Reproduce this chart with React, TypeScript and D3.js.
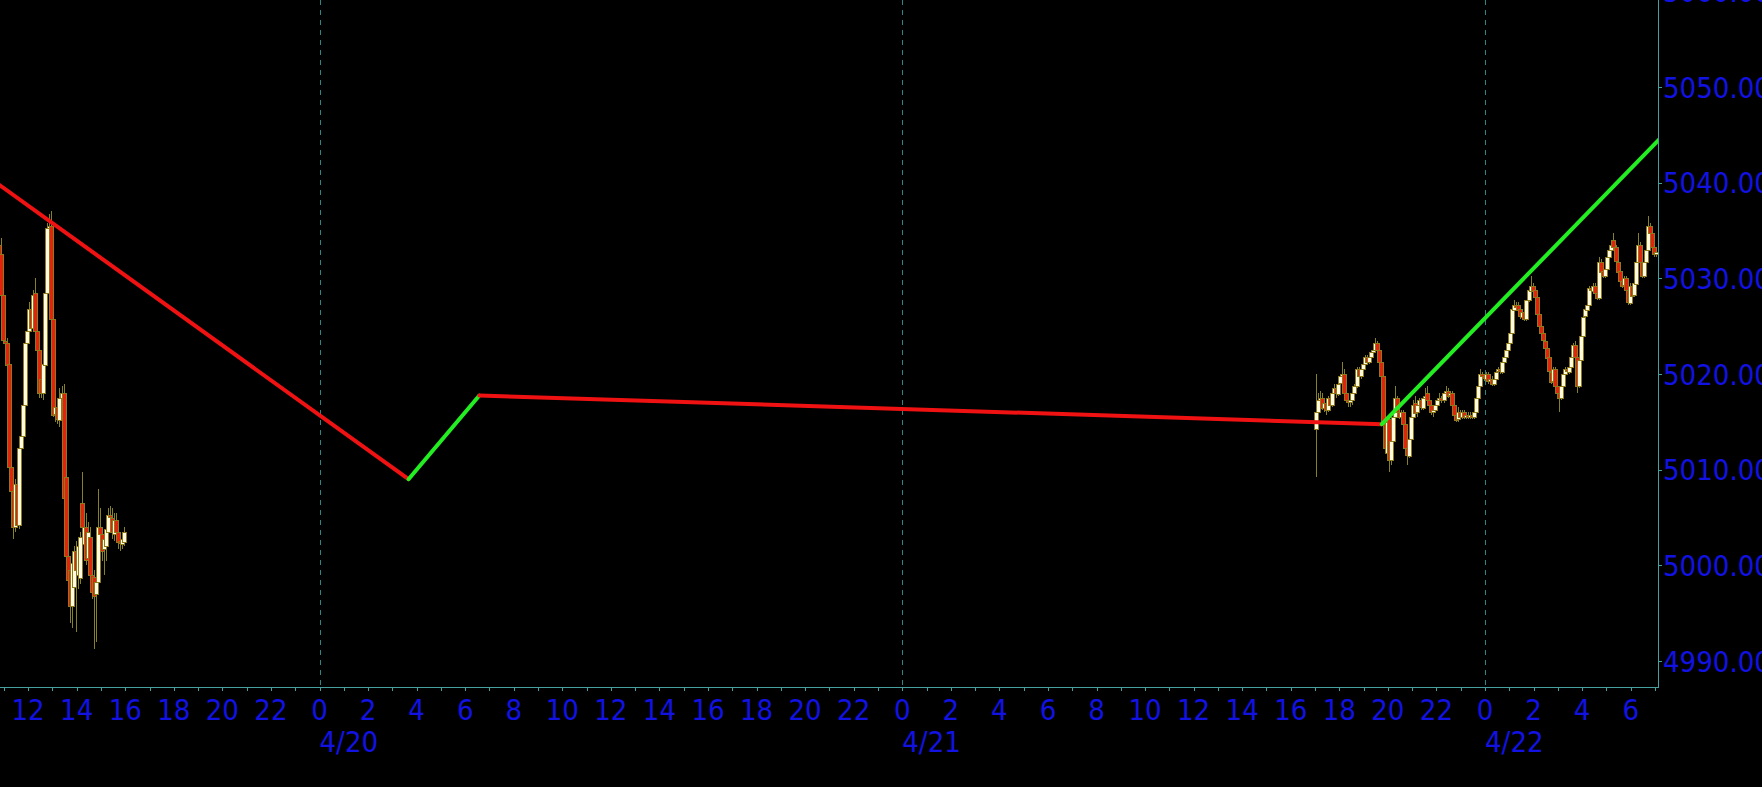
import { useEffect, useRef } from "react"
import * as d3 from "d3"

// chart frame
const W = 1762
const H = 787
const PLOT_RIGHT = 1658
const PLOT_BOTTOM = 687

// 5 minute bars, [open, high, low, close]
const BAR_MINUTES = 5
const fridayStart = new Date(2024, 3, 19, 10, 45)
const fridayBars: number[][] = [
  [5033.5, 5035.5, 5032.0, 5032.5],
  [5032.5, 5034.25, 5028.0, 5028.25],
  [5028.25, 5029.0, 5023.25, 5023.5],
  [5023.5, 5024.5, 5022.75, 5023.25],
  [5023.25, 5023.75, 5020.75, 5021.0],
  [5021.0, 5021.5, 5010.0, 5010.25],
  [5010.25, 5011.0, 5007.5, 5007.75],
  [5007.75, 5008.25, 5002.75, 5004.0],
  [5004.0, 5009.0, 5003.5, 5008.5],
  [5008.5, 5009.0, 5004.0, 5004.25],
  [5004.25, 5012.75, 5003.75, 5012.25],
  [5012.25, 5014.0, 5011.75, 5013.5],
  [5013.5, 5017.0, 5013.0, 5016.75],
  [5016.75, 5023.75, 5016.25, 5023.25],
  [5023.25, 5025.0, 5022.5, 5024.5],
  [5024.5, 5027.5, 5023.75, 5026.75],
  [5026.75, 5028.0, 5024.5, 5024.75],
  [5024.75, 5028.75, 5024.5, 5028.25],
  [5028.5, 5030.0, 5024.0, 5024.5],
  [5024.5, 5026.0, 5022.0, 5022.5],
  [5022.5, 5023.0, 5017.5, 5018.0],
  [5019.5, 5022.25, 5017.5, 5018.0],
  [5018.0, 5021.5, 5017.25, 5021.0],
  [5021.0, 5029.0, 5020.5, 5028.5],
  [5028.5, 5035.75, 5028.0, 5035.25],
  [5035.25, 5036.75, 5034.0, 5035.5],
  [5035.5, 5037.0, 5025.5, 5025.75],
  [5025.75, 5026.5, 5015.5, 5015.75],
  [5015.75, 5017.5, 5015.0, 5016.5],
  [5016.5, 5017.5, 5014.75, 5015.25],
  [5015.25, 5018.5, 5014.5, 5017.5],
  [5017.5, 5018.75, 5016.5, 5018.0],
  [5018.0, 5019.0, 5006.75, 5007.0],
  [5009.25, 5010.0, 5000.75, 5001.0],
  [5001.0, 5002.5, 4998.0, 4998.5],
  [4999.5, 5001.0, 4994.0, 4995.75],
  [4995.75, 5001.0, 4993.5, 5000.25],
  [4997.75, 5002.0, 4996.5, 5001.5],
  [5001.5, 5002.5, 4993.0, 4999.5],
  [4999.0, 5002.5, 4997.5, 5002.0],
  [4998.75, 5003.5, 4998.0, 5003.0],
  [5006.5, 5009.75, 5003.5, 5004.0],
  [5002.25, 5006.0, 5001.5, 5004.0],
  [5004.0, 5005.5, 5000.0, 5000.5],
  [5000.75, 5004.5, 4999.75, 5003.5],
  [5003.0, 5004.0, 4998.5, 4999.0],
  [4999.0, 5000.0, 4996.5, 4997.25],
  [4998.75, 4999.5, 4991.25, 4996.75],
  [4997.0, 4999.0, 4992.0, 4998.25],
  [4998.25, 5008.0, 4997.5, 5004.0],
  [5004.0, 5006.0, 5002.75, 5003.25],
  [5003.25, 5004.0, 5000.5, 5001.5],
  [5001.75, 5003.5, 4999.0, 5002.75],
  [5002.0, 5004.0, 5000.5, 5003.75],
  [5003.5, 5006.0, 5003.0, 5005.25],
  [5005.25, 5006.25, 5004.25, 5005.0],
  [5005.0, 5006.0, 5002.75, 5003.5],
  [5003.25, 5005.5, 5002.5, 5004.75],
  [5004.75, 5005.5, 5003.0, 5003.5],
  [5003.5, 5004.0, 5001.75, 5002.5],
  [5002.5, 5003.5, 5001.5, 5002.25],
  [5002.25, 5003.25, 5001.75, 5002.75],
  [5002.5, 5004.0, 5002.0, 5003.5],
]

const sundayStart = new Date(2024, 3, 21, 17, 0)
const sundayBars: number[][] = [
  [5014.25, 5020.0, 5009.25, 5016.0],
  [5016.0, 5018.0, 5015.75, 5017.25],
  [5017.25, 5018.25, 5016.75, 5017.5],
  [5017.5, 5018.0, 5016.25, 5016.5],
  [5016.5, 5017.5, 5016.0, 5017.0],
  [5017.0, 5017.25, 5015.75, 5016.25],
  [5016.25, 5017.75, 5016.0, 5017.5],
  [5017.5, 5018.0, 5016.5, 5016.75],
  [5016.75, 5018.25, 5016.5, 5018.0],
  [5018.0, 5019.0, 5017.75, 5018.5],
  [5018.5, 5018.75, 5017.5, 5018.0],
  [5018.0, 5019.25, 5017.75, 5019.0],
  [5019.0, 5020.0, 5018.75, 5019.75],
  [5019.75, 5021.25, 5019.5, 5020.0],
  [5020.0, 5020.5, 5017.75, 5018.0],
  [5018.0, 5018.25, 5017.0, 5017.25],
  [5017.25, 5017.5, 5016.5, 5017.0],
  [5017.0, 5017.5, 5016.5, 5017.25],
  [5017.25, 5018.25, 5016.75, 5018.0],
  [5018.0, 5019.0, 5017.75, 5018.75],
  [5018.75, 5020.75, 5018.5, 5020.5],
  [5020.5, 5020.75, 5019.5, 5019.75],
  [5019.75, 5020.75, 5019.5, 5020.5],
  [5020.5, 5021.25, 5020.25, 5021.0],
  [5021.0, 5022.0, 5020.75, 5021.75],
  [5021.75, 5022.0, 5021.0, 5021.25],
  [5021.25, 5022.0, 5021.0, 5021.75],
  [5021.75, 5022.5, 5021.5, 5022.25],
  [5022.25, 5022.75, 5021.75, 5022.5],
  [5022.5, 5023.75, 5022.25, 5023.25],
  [5023.25, 5023.5, 5022.25, 5022.5],
  [5022.5, 5022.75, 5021.0, 5021.25],
  [5021.25, 5021.5, 5019.5, 5019.75],
  [5019.75, 5020.0, 5014.5, 5014.75],
  [5014.75, 5015.0, 5012.0, 5012.25],
  [5011.75, 5015.25, 5011.0, 5015.0],
  [5015.25, 5015.75, 5009.75, 5011.0],
  [5011.0, 5013.25, 5010.5, 5013.0],
  [5013.0, 5015.75, 5012.75, 5015.5],
  [5015.5, 5018.75, 5015.25, 5017.5],
  [5017.5, 5017.75, 5015.75, 5016.0],
  [5016.0, 5016.25, 5015.25, 5015.5],
  [5015.5, 5016.25, 5015.25, 5016.0],
  [5016.0, 5016.25, 5014.5, 5014.75],
  [5014.75, 5015.0, 5012.0, 5012.25],
  [5012.25, 5012.5, 5010.5, 5011.5],
  [5011.5, 5013.5, 5011.25, 5013.25],
  [5013.25, 5015.75, 5013.0, 5015.5],
  [5015.5, 5017.25, 5015.25, 5016.75],
  [5017.0, 5017.75, 5015.75, 5016.0],
  [5016.0, 5017.0, 5015.5, 5016.75],
  [5016.75, 5017.5, 5016.5, 5017.25],
  [5017.25, 5017.5, 5016.25, 5016.5],
  [5016.5, 5017.75, 5016.25, 5017.5],
  [5017.5, 5018.5, 5017.25, 5017.75],
  [5018.0, 5018.75, 5017.0, 5017.25],
  [5017.25, 5017.5, 5016.5, 5016.75],
  [5016.75, 5017.0, 5015.75, 5016.0],
  [5016.0, 5016.5, 5015.5, 5016.25],
  [5016.25, 5017.0, 5016.0, 5016.75],
  [5016.75, 5017.5, 5016.5, 5017.25],
  [5017.25, 5018.0, 5017.0, 5017.5],
  [5017.5, 5017.75, 5017.0, 5017.25],
  [5017.25, 5018.25, 5017.0, 5018.0],
  [5018.0, 5018.75, 5017.75, 5018.25],
  [5018.25, 5018.5, 5017.5, 5017.75],
  [5017.75, 5018.25, 5017.5, 5018.0],
  [5018.0, 5018.25, 5016.5, 5016.75],
  [5016.75, 5017.0, 5015.5, 5015.75],
  [5015.75, 5016.0, 5015.0, 5015.25],
  [5015.25, 5016.5, 5015.0, 5016.0],
  [5016.0, 5016.25, 5015.25, 5015.5],
  [5015.5, 5016.25, 5015.25, 5016.0],
  [5016.0, 5016.25, 5015.25, 5015.5],
  [5015.5, 5016.0, 5015.25, 5015.75],
  [5015.75, 5016.0, 5015.25, 5015.5],
  [5015.5, 5016.0, 5015.25, 5015.75],
  [5015.75, 5016.0, 5015.25, 5015.5],
  [5015.5, 5016.25, 5015.25, 5016.0],
  [5016.0, 5017.75, 5015.75, 5017.5],
  [5017.5, 5019.0, 5017.25, 5018.75],
  [5018.75, 5020.5, 5018.5, 5020.0],
  [5020.0, 5020.25, 5019.5, 5019.75],
  [5019.75, 5020.0, 5019.25, 5019.5],
  [5019.5, 5020.25, 5019.25, 5020.0],
  [5020.0, 5020.25, 5019.0, 5019.25],
  [5019.25, 5019.75, 5019.0, 5019.5],
  [5019.5, 5019.75, 5018.75, 5019.0],
  [5019.0, 5019.75, 5018.75, 5019.5],
  [5019.5, 5020.5, 5019.25, 5020.25],
  [5020.25, 5020.75, 5020.0, 5020.5],
  [5020.5, 5020.75, 5020.0, 5020.25],
  [5020.25, 5021.5, 5020.0, 5021.25],
  [5021.25, 5022.0, 5021.0, 5021.75],
  [5021.75, 5022.75, 5021.5, 5022.5],
  [5022.5, 5023.5, 5022.25, 5023.25],
  [5023.25, 5024.5, 5023.0, 5024.25],
  [5024.25, 5027.0, 5024.0, 5026.75],
  [5026.75, 5027.75, 5026.5, 5027.25],
  [5027.25, 5027.5, 5026.75, 5027.0],
  [5027.25, 5027.5, 5026.5, 5026.75],
  [5026.75, 5027.0, 5025.75, 5026.0],
  [5026.0, 5026.75, 5025.75, 5026.5],
  [5026.5, 5026.75, 5025.5, 5025.75],
  [5025.75, 5027.75, 5025.5, 5027.75],
  [5027.75, 5029.0, 5027.5, 5028.75],
  [5028.75, 5030.25, 5028.5, 5029.25],
  [5029.25, 5029.5, 5028.5, 5028.75],
  [5028.75, 5029.0, 5027.75, 5028.0],
  [5028.0, 5028.25, 5026.0, 5026.25],
  [5026.25, 5026.5, 5024.75, 5025.0],
  [5025.0, 5025.25, 5024.0, 5024.25],
  [5024.25, 5024.5, 5023.25, 5023.5],
  [5023.5, 5023.75, 5022.5, 5022.75],
  [5022.75, 5023.0, 5021.5, 5021.75],
  [5021.75, 5022.0, 5020.0, 5020.25],
  [5020.25, 5020.5, 5019.0, 5019.25],
  [5019.25, 5020.75, 5019.0, 5020.5],
  [5020.5, 5020.75, 5018.5, 5018.75],
  [5018.75, 5019.0, 5017.75, 5018.0],
  [5018.0, 5018.25, 5016.0, 5017.5],
  [5017.5, 5019.0, 5017.25, 5018.75],
  [5018.75, 5020.25, 5018.5, 5020.0],
  [5020.0, 5020.75, 5019.75, 5020.5],
  [5020.5, 5020.75, 5020.0, 5020.25],
  [5020.25, 5021.0, 5020.0, 5020.75],
  [5020.75, 5022.0, 5020.5, 5021.75],
  [5021.75, 5023.25, 5021.5, 5023.0],
  [5023.0, 5023.5, 5021.5, 5021.75],
  [5021.75, 5022.0, 5018.0, 5018.75],
  [5018.75, 5021.75, 5018.5, 5021.5],
  [5021.5, 5024.25, 5021.25, 5024.0],
  [5024.0, 5026.25, 5023.75, 5026.0],
  [5026.0, 5027.0, 5025.75, 5026.75],
  [5026.75, 5027.5, 5026.5, 5027.25],
  [5027.25, 5029.25, 5027.0, 5029.0],
  [5029.0, 5029.25, 5028.5, 5028.75],
  [5028.75, 5029.5, 5028.5, 5029.25],
  [5029.25, 5029.5, 5028.25, 5028.5],
  [5028.5, 5028.75, 5027.75, 5028.0],
  [5028.0, 5032.25, 5027.75, 5031.75],
  [5031.75, 5032.0, 5030.5, 5030.75],
  [5030.75, 5031.0, 5030.0, 5030.25],
  [5030.25, 5031.25, 5030.0, 5031.0],
  [5031.0, 5032.5, 5030.75, 5032.25],
  [5032.25, 5033.25, 5032.0, 5033.0],
  [5033.0, 5034.0, 5032.75, 5033.5],
  [5034.0, 5034.75, 5033.0, 5033.25],
  [5033.25, 5033.5, 5031.5, 5031.75],
  [5031.75, 5032.0, 5030.5, 5030.75],
  [5030.75, 5031.0, 5029.5, 5029.75],
  [5029.75, 5030.0, 5029.0, 5029.25],
  [5029.25, 5030.25, 5029.0, 5030.0],
  [5030.0, 5030.25, 5028.5, 5028.75],
  [5028.75, 5029.0, 5027.25, 5027.5],
  [5027.5, 5029.5, 5027.25, 5029.25],
  [5029.25, 5029.5, 5028.0, 5028.25],
  [5028.25, 5029.75, 5028.0, 5029.5],
  [5029.5, 5031.75, 5029.25, 5031.75],
  [5031.75, 5034.75, 5031.5, 5033.5],
  [5033.5, 5033.75, 5031.5, 5031.75],
  [5031.75, 5032.0, 5030.0, 5030.25],
  [5030.25, 5032.0, 5030.0, 5031.75],
  [5031.75, 5033.25, 5031.5, 5033.0],
  [5033.0, 5036.5, 5032.75, 5035.5],
  [5035.5, 5035.75, 5034.5, 5034.75],
  [5034.75, 5035.0, 5033.0, 5033.25],
  [5033.25, 5033.5, 5032.25, 5032.5],
  [5032.5, 5033.25, 5032.25, 5032.75],
]

// zigzag line pivots
const zigzagTimes = [
  new Date(2024, 3, 19, 10, 0),
  new Date(2024, 3, 20, 3, 40),
  new Date(2024, 3, 20, 6, 35),
  new Date(2024, 3, 21, 19, 45),
  new Date(2024, 3, 22, 7, 10),
]
const zigzagPrices = [5041.25, 5009.0, 5017.75, 5014.75, 5044.5]

const priceTicks = [4990, 5000, 5010, 5020, 5030, 5040, 5050, 5060]
const dayStarts = [new Date(2024, 3, 20), new Date(2024, 3, 21), new Date(2024, 3, 22)]

const FONT = "'DejaVu Sans Condensed', 'DejaVu Sans', sans-serif"
const BLUE = "#1212e2"
const AXIS = "#46a0a0"
const GRID = "#2f8585"

export default function App() {
  const svgRef = useRef<SVGSVGElement>(null)

  useEffect(() => {
    if (!svgRef.current) return
    const svg = d3.select(svgRef.current)
    svg.selectAll("*").remove()

    // X: 4/20 0:00 at 319.5, 4/22 0:00 at 1485
    const x = d3.scaleTime().domain([dayStarts[0], dayStarts[2]]).range([319.5, 1485])
    const y = d3.scaleLinear().domain([4990, 5050]).range([661, 87])

    svg.append("rect").attr("width", W).attr("height", H).attr("fill", "#000")

    svg
      .append("defs")
      .append("clipPath")
      .attr("id", "plot-clip")
      .append("rect")
      .attr("width", PLOT_RIGHT)
      .attr("height", PLOT_BOTTOM)

    const plot = svg.append("g").attr("clip-path", "url(#plot-clip)")

    // day separators
    plot
      .selectAll(".day")
      .data(dayStarts)
      .enter()
      .append("line")
      .attr("x1", (d) => Math.round(x(d)) + 0.5)
      .attr("x2", (d) => Math.round(x(d)) + 0.5)
      .attr("y1", 0)
      .attr("y2", PLOT_BOTTOM)
      .attr("stroke", GRID)
      .attr("stroke-dasharray", "5,5")
      .attr("shape-rendering", "crispEdges")

    // candles
    const toBars = (start: Date, rows: number[][]) =>
      rows.map((r, i) => ({
        t: new Date(start.getTime() + (i * BAR_MINUTES + BAR_MINUTES / 2) * 60000),
        o: r[0],
        h: r[1],
        l: r[2],
        c: r[3],
      }))
    const bars = [...toBars(fridayStart, fridayBars), ...toBars(sundayStart, sundayBars)]

    const candle = plot
      .selectAll(".bar")
      .data(bars)
      .enter()
      .append("g")
      .attr("shape-rendering", "crispEdges")

    candle
      .append("line")
      .attr("x1", (d) => Math.round(x(d.t)) + 0.5)
      .attr("x2", (d) => Math.round(x(d.t)) + 0.5)
      .attr("y1", (d) => y(d.h))
      .attr("y2", (d) => y(d.l))
      .attr("stroke", "#868029")

    candle
      .append("rect")
      .attr("x", (d) => Math.round(x(d.t)) - 1.5)
      .attr("width", 4)
      .attr("y", (d) => Math.round(y(Math.max(d.o, d.c))) + 0.5)
      .attr("height", (d) => Math.max(1, Math.round(y(Math.min(d.o, d.c)) - y(Math.max(d.o, d.c)))))
      .attr("fill", (d) => (d.c >= d.o ? "#fffbe2" : "#e4220e"))
      .attr("stroke", "#8e7a1c")

    // zigzag
    const pts = zigzagTimes.map((t, i) => ({ t, p: zigzagPrices[i] }))
    const line = d3
      .line<{ t: Date; p: number }>()
      .x((d) => x(d.t))
      .y((d) => y(d.p))
    d3.pairs(pts).forEach(([a, b]) => {
      plot
        .append("path")
        .datum([a, b])
        .attr("d", line)
        .attr("fill", "none")
        .attr("stroke", b.p > a.p ? "#22ee22" : "#f01212")
        .attr("stroke-width", 4)
        .attr("stroke-linecap", "round")
    })

    // axes frame
    const axes = svg.append("g").attr("shape-rendering", "crispEdges")
    axes
      .append("line")
      .attr("x1", 0)
      .attr("x2", PLOT_RIGHT + 1)
      .attr("y1", PLOT_BOTTOM + 0.5)
      .attr("y2", PLOT_BOTTOM + 0.5)
      .attr("stroke", AXIS)
    axes
      .append("line")
      .attr("x1", PLOT_RIGHT + 0.5)
      .attr("x2", PLOT_RIGHT + 0.5)
      .attr("y1", 0)
      .attr("y2", PLOT_BOTTOM + 1)
      .attr("stroke", AXIS)

    // hour ticks + labels
    const hours = d3.timeHour.range(x.invert(0), x.invert(PLOT_RIGHT))
    axes
      .selectAll(".htick")
      .data(hours)
      .enter()
      .append("line")
      .attr("x1", (d) => Math.round(x(d)) + 0.5)
      .attr("x2", (d) => Math.round(x(d)) + 0.5)
      .attr("y1", PLOT_BOTTOM + 1)
      .attr("y2", PLOT_BOTTOM + 4)
      .attr("stroke", AXIS)

    const labels = svg
      .append("g")
      .attr("font-family", FONT)
      .attr("font-stretch", "condensed")
      .attr("font-size", 29)
      .attr("fill", BLUE)

    labels
      .selectAll(".hlabel")
      .data(hours.filter((d) => d.getHours() % 2 === 0))
      .enter()
      .append("text")
      .attr("x", (d) => x(d))
      .attr("y", 720)
      .attr("text-anchor", "middle")
      .text((d) => String(d.getHours()))

    labels
      .selectAll(".dlabel")
      .data(dayStarts)
      .enter()
      .append("text")
      .attr("x", (d) => x(d))
      .attr("y", 752)
      .text((d) => `${d.getMonth() + 1}/${d.getDate()}`)

    // price ticks + labels
    axes
      .selectAll(".ptick")
      .data(priceTicks)
      .enter()
      .append("line")
      .attr("x1", PLOT_RIGHT + 1)
      .attr("x2", PLOT_RIGHT + 4)
      .attr("y1", (d) => Math.round(y(d)) + 0.5)
      .attr("y2", (d) => Math.round(y(d)) + 0.5)
      .attr("stroke", AXIS)

    labels
      .selectAll(".plabel")
      .data(priceTicks)
      .enter()
      .append("text")
      .attr("x", PLOT_RIGHT + 5)
      .attr("y", (d) => y(d) + 10.5)
      .text((d) => d3.format(".2f")(d))
  }, [])

  return (
    <svg
      ref={svgRef}
      width={W}
      height={H}
      style={{ position: "absolute", left: 0, top: 0, display: "block" }}
    ></svg>
  )
}
